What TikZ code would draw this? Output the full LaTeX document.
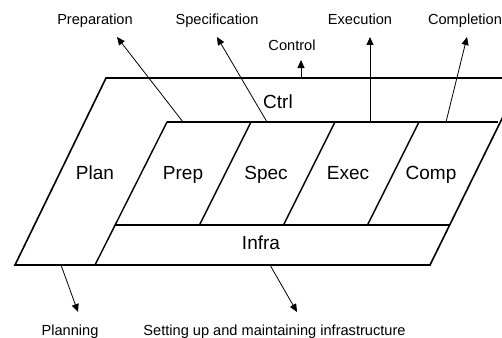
\documentclass[tikz,border=0pt]{standalone}
\usepackage{fontspec}
\setmainfont{Liberation Sans}
\usetikzlibrary{arrows.meta}
\begin{document}
\begin{tikzpicture}[x=1pt,y=-1pt,
  shape line/.style={line width=1.6pt,line join=miter},
  part line/.style={line width=1.4pt},
  flow/.style={line width=0.8pt,-{Triangle[length=8pt,width=7pt]}},
  big/.style={anchor=base,inner sep=0pt,font=\fontsize{19}{22}\selectfont},
  small/.style={anchor=base,inner sep=0pt,font=\fontsize{14.6}{17}\selectfont}]
\useasboundingbox (0,0) rectangle (502,337);
\clip (0,0) rectangle (502,337);
% outer shape
\coordinate (otl) at (106,78);
\coordinate (otr) at (522,78);
\coordinate (obr) at (430,265);
\coordinate (obl) at (15,265);
\draw[shape line] (otl) -- (otr) -- (obr) -- (obl) -- cycle;
% inner boundary
\coordinate (itl) at (167,122);
\coordinate (itr) at (498,122);
\coordinate (ibl) at (95,265);
\coordinate (fl) at (115,225);
\coordinate (fr) at (449,225);
\draw[part line] (itl) -- (ibl);
\draw[part line] (itl) -- (itr);
\draw[part line] (fl) -- (fr);
% dividers
\coordinate (d1t) at (251,122); \coordinate (d1b) at (199.5,225);
\coordinate (d2t) at (335,122); \coordinate (d2b) at (283.5,225);
\coordinate (d3t) at (419,122); \coordinate (d3b) at (367.5,225);
\draw[part line] (d1t) -- (d1b);
\draw[part line] (d2t) -- (d2b);
\draw[part line] (d3t) -- (d3b);
% area labels
\node[big] (ctrl) at (278,108) {Ctrl};
\node[big] (plan) at (95,179) {Plan};
\node[big] (prep) at (183,179) {Prep};
\node[big] (spec) at (266,179) {Spec};
\node[big] (exec) at (348,179) {Exec};
\node[big] (comp) at (431,179) {Comp};
\node[big] (infra) at (261,249) {Infra};
% outside labels
\node[small] (lprep) at (95,25) {Preparation};
\node[small] (lspec) at (217,25) {Specification};
\node[small] (lexec) at (360,25) {Execution};
\node[small] (lcomp) at (465,25) {Completion};
\node[small] (lctrl) at (292,51) {Control};
\node[small] (lplan) at (70,335) {Planning};
\node[small] (linfra) at (274.5,335) {Setting up and maintaining infrastructure};
% arrow end points
\coordinate (sprep) at (183,122); \coordinate (eprep) at (117,37);
\coordinate (sspec) at (267,122); \coordinate (espec) at (217,37);
\coordinate (sctrl) at (301,78);  \coordinate (ectrl) at (301,60);
\coordinate (sexec) at (370,122); \coordinate (eexec) at (370,37);
\coordinate (scomp) at (446,122); \coordinate (ecomp) at (467,37);
\coordinate (splan) at (61,265);  \coordinate (eplan) at (78,312);
\coordinate (sinfra) at (270,265); \coordinate (einfra) at (297,312);
\draw[flow] (sprep) -- (eprep);
\draw[flow] (sspec) -- (espec);
\draw[flow] (sctrl) -- (ectrl);
\draw[flow] (sexec) -- (eexec);
\draw[flow] (scomp) -- (ecomp);
\draw[flow] (splan) -- (eplan);
\draw[flow] (sinfra) -- (einfra);
\end{tikzpicture}
\end{document}
